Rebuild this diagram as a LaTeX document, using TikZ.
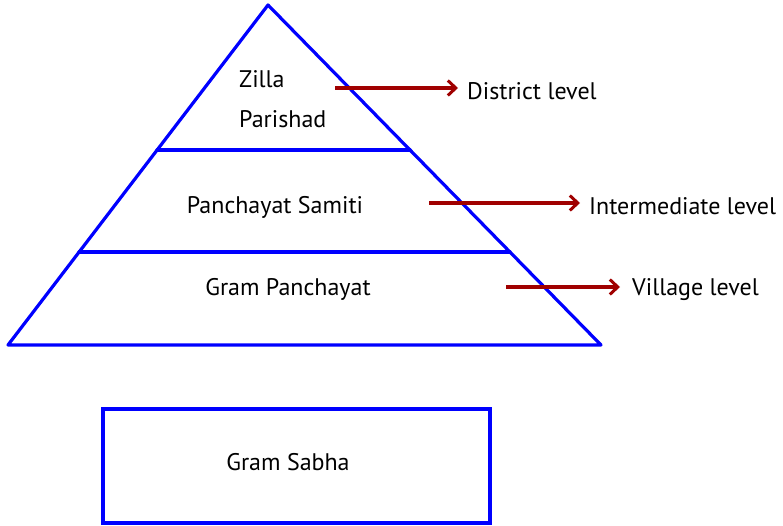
\documentclass[tikz,border=0pt]{standalone}
\usepackage{fontspec}
\setmainfont{PT Sans}
\usetikzlibrary{arrows.meta}
\definecolor{pyrblue}{RGB}{0,0,255}
\definecolor{arrred}{RGB}{160,0,0}
\tikzset{
  pyr/.style={draw=pyrblue, line width=3.2pt, line join=round, line cap=round},
  lvlarrow/.style={draw=arrred, line width=3.2pt, -{Straight Barb[length=8pt,width=15pt,line width=3pt]}},
  lbl/.style={font=\fontsize{24}{29}\selectfont, inner sep=0pt, text=black},
}
\begin{document}
\begin{tikzpicture}[x=1pt,y=-1pt]
\useasboundingbox (0,0) rectangle (783,526);
% pyramid
\coordinate (apex) at (268,5);
\coordinate (bl) at (8,345);
\coordinate (br) at (601,345);
\coordinate (l1) at (157,150);
\coordinate (r1) at (410,150);
\coordinate (l2) at (79,252);
\coordinate (r2) at (510,252);
\draw[pyr] (apex) -- (br) -- (bl) -- cycle;
\draw[pyr] (l1) -- (r1);
\draw[pyr] (l2) -- (r2);
% level texts
\node[lbl, anchor=west, align=left] (zp) at (239,99) {Zilla\\[11pt]Parishad};
\node[lbl] (ps) at (275,207) {Panchayat Samiti};
\node[lbl] (gp) at (288,289) {Gram Panchayat};
% right labels
\node[lbl, anchor=west] (dl) at (467,91) {District level};
\node[lbl, anchor=west] (il) at (589,206) {Intermediate level};
\node[lbl, anchor=west] (vl) at (632,290) {Village level};
\coordinate (a1) at (335,88);
\coordinate (a2) at (429,203);
\coordinate (a3) at (506,287);
\draw[lvlarrow] (a1) -- ([xshift=-9pt]dl.west |- a1);
\draw[lvlarrow] (a2) -- ([xshift=-9pt]il.west |- a2);
\draw[lvlarrow] (a3) -- ([xshift=-12pt]vl.west |- a3);
% gram sabha
\node[draw=pyrblue, line width=3.2pt, minimum width=387pt, minimum height=114pt, inner sep=0pt] (gs) at (296.5,466) {};
\node[lbl] (gst) at (288,462) {Gram Sabha};
\end{tikzpicture}
\end{document}
